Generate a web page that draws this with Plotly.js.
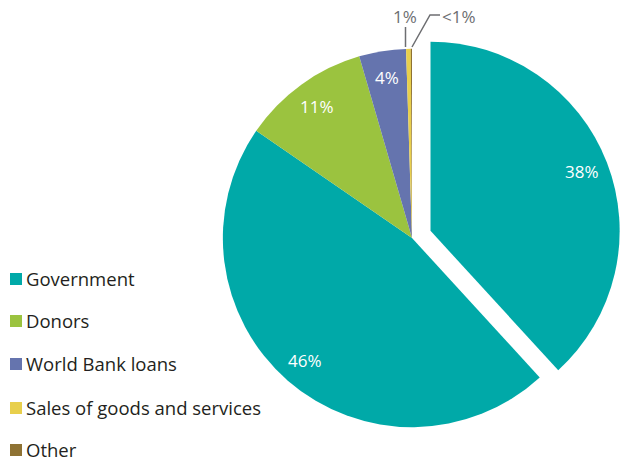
<!DOCTYPE html>
<html>
<head>
<meta charset="utf-8">
<script src="https://cdn.plot.ly/plotly-3.0.1.min.js"></script>
<style>
  html, body { margin: 0; padding: 0; background: #ffffff; }
  #chart { width: 621px; height: 462px; }
</style>
</head>
<body>
<div id="chart"></div>
<script>
// ---- data ----
var sliceLabels = ["Government (38%)", "Government (46%)", "Donors", "World Bank loans", "Sales of goods and services", "Other"];
var sliceValues = [38.2, 46.4, 10.9, 4.0, 0.4, 0.1];
var sliceText   = ["38%", "46%", "11%", "4%", "1%", "<1%"];
var legendLabels = ["Government", "Donors", "World Bank loans", "Sales of goods and services", "Other"];

// ---- styles ----
var sliceColors  = ["#00A9A8", "#00A9A8", "#9BC33F", "#6574AE", "#E8CF4C", "#8E7233"];
var legendColors = ["#00A9A8", "#9BC33F", "#6574AE", "#E8CF4C", "#8E7233"];
var slicePull    = [0.105, 0, 0, 0, 0, 0];
var insideLabel  = [true, true, true, true, false, false];

var W = 621, H = 462;
function px(x) { return x / W; }
function py(y) { return 1 - y / H; }

var FONT = "Open Sans, Noto Sans, sans-serif";
var GREY = "#6D6E71";

var domX = [px(412 - 209), 1];
var domY = [py(448), py(28)];

var trace = {
  type: "pie",
  labels: sliceLabels,
  values: sliceValues,
  textinfo: "none",
  marker: { colors: sliceColors, line: { width: 0 } },
  pull: slicePull,
  sort: false,
  direction: "clockwise",
  rotation: 0,
  showlegend: false,
  hoverinfo: "label+percent",
  domain: { x: domX, y: domY }
};

var shapes = [];
var annotations = [];

// inside labels placed from the slice angles (same geometry rule as the pie)
var boxW = (domX[1] - domX[0]) * W, boxH = (domY[1] - domY[0]) * H;
var maxPull = Math.max.apply(null, slicePull);
var R = Math.min(boxW, boxH) / 2 / (1 + maxPull);
var CX = (domX[0] + domX[1]) / 2 * W;
var CY = (1 - (domY[0] + domY[1]) / 2) * H;
var total = sliceValues.reduce(function (a, b) { return a + b; }, 0);
var cum = 0;
sliceValues.forEach(function (v, i) {
  var mid = (cum + v / 2) / total * 2 * Math.PI;
  cum += v;
  if (!insideLabel[i]) return;
  var dx = Math.sin(mid), dy = -Math.cos(mid);
  var rr = R * 0.86 + R * slicePull[i];
  annotations.push({
    xref: "paper", yref: "paper",
    x: px(CX + rr * dx), y: py(CY + rr * dy),
    xanchor: "center", yanchor: "middle", showarrow: false,
    text: sliceText[i], font: { family: FONT, size: 17, color: "#ffffff" }
  });
});

// manual legend (squares + text)
var legendY = [279, 321, 364, 408, 450];
legendLabels.forEach(function (lab, i) {
  var cy = legendY[i];
  shapes.push({
    type: "rect", xref: "paper", yref: "paper",
    x0: px(10), x1: px(22), y0: py(cy + 6), y1: py(cy - 6),
    fillcolor: legendColors[i], line: { width: 0 }
  });
  annotations.push({
    xref: "paper", yref: "paper", x: px(25), y: py(cy - 1),
    xanchor: "left", yanchor: "middle", showarrow: false, borderpad: 0,
    text: lab, font: { family: FONT, size: 18.5, color: "#231F20" }
  });
});

// outside labels for the two tiny slices
annotations.push({
  xref: "paper", yref: "paper", x: px(405), y: py(16),
  xanchor: "center", yanchor: "middle", showarrow: false,
  text: sliceText[4], font: { family: FONT, size: 17, color: GREY }
});
annotations.push({
  xref: "paper", yref: "paper", x: px(440), y: py(16),
  xanchor: "left", yanchor: "middle", showarrow: false,
  text: sliceText[5], font: { family: FONT, size: 17, color: GREY }
});
shapes.push({
  type: "line", xref: "paper", yref: "paper",
  x0: px(405.5), y0: py(27), x1: px(405.5), y1: py(47),
  line: { color: GREY, width: 1.5 }
});
shapes.push({
  type: "path", xref: "paper", yref: "paper",
  path: "M " + px(440) + "," + py(15) + " L " + px(430) + "," + py(15) + " L " + px(412) + "," + py(47),
  line: { color: GREY, width: 1.5 }
});

var layout = {
  width: W, height: H,
  margin: { l: 0, r: 0, t: 0, b: 0, pad: 0 },
  paper_bgcolor: "#ffffff",
  plot_bgcolor: "#ffffff",
  showlegend: false,
  font: { family: FONT },
  shapes: shapes,
  annotations: annotations
};

Plotly.newPlot("chart", [trace], layout, { staticPlot: true, displayModeBar: false });
</script>
</body>
</html>
